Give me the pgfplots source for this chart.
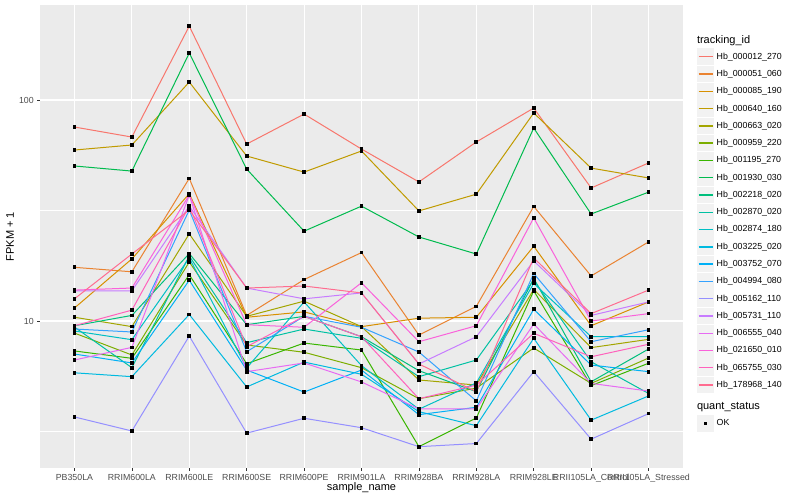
\documentclass[border=0pt]{standalone}
\usepackage{fontspec}
\setmainfont{Liberation Sans}
\usepackage{pgfplots}
\usepackage{pgfplotstable}
\pgfplotsset{compat=1.18}

% ggplot hue palette, 20 levels
\definecolor{c1}{HTML}{F8766D}
\definecolor{c2}{HTML}{EA8331}
\definecolor{c3}{HTML}{D89000}
\definecolor{c4}{HTML}{C09B00}
\definecolor{c5}{HTML}{A3A500}
\definecolor{c6}{HTML}{7CAE00}
\definecolor{c7}{HTML}{39B600}
\definecolor{c8}{HTML}{00BB4E}
\definecolor{c9}{HTML}{00BF7D}
\definecolor{c10}{HTML}{00C1A3}
\definecolor{c11}{HTML}{00BFC4}
\definecolor{c12}{HTML}{00BAE0}
\definecolor{c13}{HTML}{00B0F6}
\definecolor{c14}{HTML}{35A2FF}
\definecolor{c15}{HTML}{9590FF}
\definecolor{c16}{HTML}{C77CFF}
\definecolor{c17}{HTML}{E76BF3}
\definecolor{c18}{HTML}{FA62DB}
\definecolor{c19}{HTML}{FF62BC}
\definecolor{c20}{HTML}{FF6C90}
\definecolor{panel}{HTML}{EBEBEB}
\definecolor{keybg}{HTML}{F2F2F2}
\definecolor{ticktxt}{HTML}{4D4D4D}
\definecolor{tickln}{HTML}{333333}

\newcommand\smallfont{\fontsize{8.8bp}{10bp}\selectfont}
\newcommand\bigfont{\fontsize{11bp}{13bp}\selectfont}

% FPKM + 1 per sample (rows) and gene (columns)
\pgfplotstableread{
x  s1    s2    s3    s4    s5    s6    s7    s8    s9    s10   s11   s12   s13   s14   s15   s16   s17   s18   s19   s20
0  75.5  17.5  11.45 59.4  10.4  8.82  7.32  50.3  9.52  9.39  9.01  5.83  7.09  9.20  3.68  13.7  6.66  13.8  9.52  12.6
1  68.0  16.7  19.1  62.6  9.43  7.02  6.78  47.7  10.6  6.15  8.23  5.60  6.46  8.92  3.18  13.7  7.60  14.1  11.2  20.1
2  216   44.2  37.7  120.6 24.8  18.5  16.2  163.2 20.2  19.7  19.3  10.7  15.3  31.8  8.55  33.1  37.1  37.2  33.1  31.8
3  63.2  10.6  10.4  55.8  10.5  7.79  6.41  48.7  9.62  7.98  6.13  5.03  6.00  7.26  3.11  14.1  5.90  9.62  7.65  14.1
4  86.4  15.4  11.0  47.2  12.3  7.22  7.95  25.5  10.5  9.20  12.2  6.52  4.77  10.5  3.63  12.6  6.46  9.37  10.5  14.4
5  60.0  20.4  9.43  58.8  9.43  6.15  7.39  33.1  8.49  8.35  6.28  5.74  6.00  9.37  3.29  13.4  5.30  14.9  8.49  13.4
6  42.6  8.64  10.3  31.5  5.41  4.45  2.70  24.0  5.96  5.60  3.99  3.89  3.77  7.24  2.70  6.39  4.00  8.06  4.45  6.39
7  64.6  11.65 10.4  37.5  5.13  4.97  3.64  20.1  4.79  6.66  5.25  3.36  4.07  4.35  2.79  8.49  4.00  9.52  5.13  4.79
8  92.0  33.0  21.8  87.4  13.9  7.55  13.7  74.7  15.6  15.3  14.8  8.35  11.3  16.4  5.90  18.7  9.69  29.3  8.80  19.3
9  40.0  16.0  9.52  49.2  7.58  5.22  5.10  30.5  5.31  6.54  8.49  3.56  6.32  8.06  2.92  10.6  5.22  10.0  6.89  10.8
10 51.9  22.8  12.2  44.4  8.26  6.80  6.44  38.3  7.47  4.70  8.49  4.58  5.90  9.13  3.81  12.2  4.82  10.8  7.85  13.8
}\fpkm

\begin{document}
\begin{tikzpicture}
\fill[white] (0bp,0bp) rectangle (800bp,500bp);
\path[use as bounding box] (0bp,0bp) rectangle (800bp,500bp);
\begin{axis}[
  at={(40bp,32bp)}, anchor=south west,
  scale only axis, width=643bp, height=463bp,
  ymode=log,
  xmin=-0.6, xmax=10.6, ymin=2.162, ymax=269.2,
  axis background/.style={fill=panel},
  axis line style={draw=none},
  xtick={0,...,10},
  xticklabels={PB350LA,RRIM600LA,RRIM600LE,RRIM600SE,RRIM600PE,RRIM901LA,RRIM928BA,RRIM928LA,RRIM928LE,RRII105LA\_Control,RRII105LA\_Stressed},
  ytick={10,100}, yticklabels={10,100},
  minor ytick={3.1623,31.623},
  grid=both,
  major grid style={white, line width=1.07bp},
  minor grid style={white, line width=0.53bp},
  tick align=outside, tick pos=left,
  major tick length=2.75bp, minor tick length=0pt,
  tick style={tickln, line width=0.5bp},
  ticklabel style={font=\smallfont, text=ticktxt},
  xlabel={sample\_name}, ylabel={FPKM + 1},
  label style={font=\bigfont},
  xlabel style={at={(axis description cs:0.5,-0.0432)}, anchor=center},
  ylabel style={at={(axis description cs:-0.0467,0.5)}, anchor=center},
  legend cell align=left,
  legend style={at={(1.02177,0.93888)}, anchor=north west, draw=none, fill=none,
    inner sep=0pt, outer sep=0pt, row sep=0pt, column sep=2.4bp,
    font=\smallfont, nodes={inner sep=0pt}},
  legend image code/.code={
    \path[draw=none, fill=none] (0bp,-8.64bp) rectangle (17.28bp,8.64bp);
    \fill[keybg, draw=none] (0.3bp,-8.34bp) rectangle (16.98bp,8.34bp);
    \draw[#1, line width=1.4bp] (1.7bp,0bp) -- (15.6bp,0bp);},
  every axis plot/.append style={line width=1bp},
]
\addlegendimage{legend image code/.code={
  \node[overlay, anchor=west, inner sep=0pt, draw=none, fill=none, text=black, font=\bigfont] at (0bp,0bp) {tracking\_id};
  \path[draw=none, fill=none] (0bp,-7.4bp) rectangle (17.28bp,7.4bp);}}
\addlegendentry{}

\addplot[c1]  table[x=x, y=s1]  {\fpkm}; \addlegendentry{Hb\_000012\_270}
\addplot[c2]  table[x=x, y=s2]  {\fpkm}; \addlegendentry{Hb\_000051\_060}
\addplot[c3]  table[x=x, y=s3]  {\fpkm}; \addlegendentry{Hb\_000085\_190}
\addplot[c4]  table[x=x, y=s4]  {\fpkm}; \addlegendentry{Hb\_000640\_160}
\addplot[c5]  table[x=x, y=s5]  {\fpkm}; \addlegendentry{Hb\_000663\_020}
\addplot[c6]  table[x=x, y=s6]  {\fpkm}; \addlegendentry{Hb\_000959\_220}
\addplot[c7]  table[x=x, y=s7]  {\fpkm}; \addlegendentry{Hb\_001195\_270}
\addplot[c8]  table[x=x, y=s8]  {\fpkm}; \addlegendentry{Hb\_001930\_030}
\addplot[c9]  table[x=x, y=s9]  {\fpkm}; \addlegendentry{Hb\_002218\_020}
\addplot[c10] table[x=x, y=s10] {\fpkm}; \addlegendentry{Hb\_002870\_020}
\addplot[c11] table[x=x, y=s11] {\fpkm}; \addlegendentry{Hb\_002874\_180}
\addplot[c12] table[x=x, y=s12] {\fpkm}; \addlegendentry{Hb\_003225\_020}
\addplot[c13] table[x=x, y=s13] {\fpkm}; \addlegendentry{Hb\_003752\_070}
\addplot[c14] table[x=x, y=s14] {\fpkm}; \addlegendentry{Hb\_004994\_080}
\addplot[c15] table[x=x, y=s15] {\fpkm}; \addlegendentry{Hb\_005162\_110}
\addplot[c16] table[x=x, y=s16] {\fpkm}; \addlegendentry{Hb\_005731\_110}
\addplot[c17] table[x=x, y=s17] {\fpkm}; \addlegendentry{Hb\_006555\_040}
\addplot[c18] table[x=x, y=s18] {\fpkm}; \addlegendentry{Hb\_021650\_010}
\addplot[c19] table[x=x, y=s19] {\fpkm}; \addlegendentry{Hb\_065755\_030}
\addplot[c20] table[x=x, y=s20] {\fpkm}; \addlegendentry{Hb\_178968\_140}

% points on top of all lines
\pgfplotsinvokeforeach{1,...,20}{
  \addplot[forget plot, only marks, mark=square*, mark size=1.35bp, black] table[x=x, y=s#1] {\fpkm};
}

\addlegendimage{legend image code/.code={
  \node[overlay, anchor=west, inner sep=0pt, draw=none, fill=none, text=black, font=\bigfont] at (0bp,0bp) {quant\_status};
  \path[draw=none, fill=none] (0bp,-8.4bp) rectangle (17.28bp,12.5bp);}}
\addlegendentry{}
\addlegendimage{legend image code/.code={
  \path[draw=none, fill=none] (0bp,-8.64bp) rectangle (17.28bp,8.64bp);
  \fill[keybg, draw=none] (0.3bp,-8.34bp) rectangle (16.98bp,8.34bp);
  \fill[black, draw=none] (7.24bp,-1.4bp) rectangle (10.04bp,1.4bp);}}
\addlegendentry{OK}
\end{axis}
\end{tikzpicture}
\end{document}
